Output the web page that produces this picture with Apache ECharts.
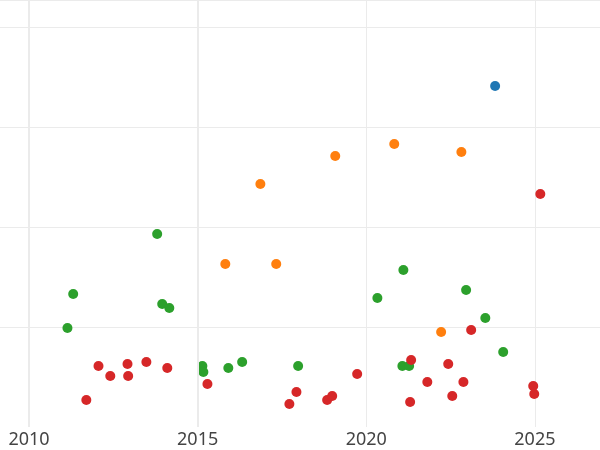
<!DOCTYPE html>
<html>
<head>
<meta charset="utf-8">
<script src="https://cdn.jsdelivr.net/npm/echarts@6/dist/echarts.min.js"></script>
<style>html,body{margin:0;padding:0;background:#fff}#c{width:600px;height:450px}</style>
</head>
<body>
<div id="c"></div>
<script>
const xTicks = [2010, 2015, 2020, 2025];
const blueData = [[2023.82, 3.41]];
const orangeData = [
  [2016.86, 2.43], [2019.08, 2.71], [2020.83, 2.83], [2022.82, 2.75],
  [2015.82, 1.63], [2017.33, 1.63], [2022.22, 0.95]
];
const greenData = [
  [2013.80, 1.93], [2011.31, 1.33], [2011.14, 0.99], [2013.95, 1.23], [2014.16, 1.19],
  [2021.10, 1.57], [2020.33, 1.29], [2022.96, 1.37], [2023.53, 1.09], [2024.06, 0.75],
  [2015.14, 0.61], [2015.17, 0.55], [2015.91, 0.59], [2016.32, 0.65], [2017.98, 0.61],
  [2021.07, 0.61], [2021.27, 0.61]
];
const redData = [
  [2025.16, 2.33], [2012.06, 0.61], [2012.41, 0.51], [2012.92, 0.63], [2012.94, 0.51],
  [2013.48, 0.65], [2011.70, 0.27], [2014.10, 0.59], [2015.29, 0.43], [2017.72, 0.23],
  [2017.93, 0.35], [2018.84, 0.27], [2018.99, 0.31], [2019.73, 0.53], [2021.33, 0.67],
  [2021.30, 0.25], [2021.81, 0.45], [2022.43, 0.63], [2022.55, 0.31], [2022.88, 0.45],
  [2023.11, 0.97], [2024.95, 0.41], [2024.98, 0.33]
];
const thickTicks = [2010, 2015];

const chart = echarts.init(document.getElementById('c'), null, {renderer: 'canvas'});
const mk = (data, color) => ({
  type: 'scatter', data: data, symbolSize: 10,
  itemStyle: {color: color, opacity: 1}, emphasis: {disabled: true}
});
const green = mk(greenData, '#2ca02c');
green.markLine = {
  silent: true, symbol: ['none', 'none'], label: {show: false}, animation: false,
  lineStyle: {color: '#ebebeb', width: 2, type: 'solid'},
  emphasis: {disabled: true},
  data: thickTicks.map(v => ({xAxis: v}))
};
chart.setOption({
  animation: false,
  grid: {left: 0, right: 0, top: 0, bottom: 23, containLabel: false},
  xAxis: {
    type: 'value', min: 2009.14, max: 2026.93,
    axisLine: {show: false},
    axisTick: {show: false, customValues: xTicks},
    axisLabel: {customValues: xTicks, fontSize: 18, color: '#444', margin: 4,
      fontFamily: 'Noto Sans', formatter: v => String(v)},
    splitLine: {show: true, lineStyle: {color: '#ebebeb', width: 1}}
  },
  yAxis: {
    type: 'value', min: 0, max: 4.27, interval: 1,
    axisLine: {show: false}, axisTick: {show: false}, axisLabel: {show: false},
    splitLine: {show: true, showMinLine: false, lineStyle: {color: '#ebebeb', width: 1}}
  },
  series: [
    green,
    mk(redData, '#d62728'),
    mk(orangeData, '#ff7f0e'),
    mk(blueData, '#1f77b4')
  ]
});
</script>
</body>
</html>
